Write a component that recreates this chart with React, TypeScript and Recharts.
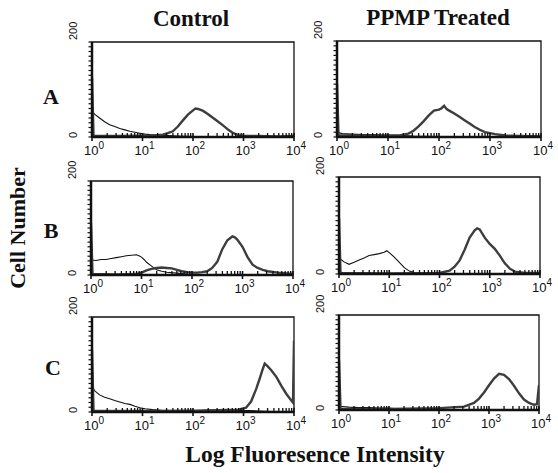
import React from 'react';
import { LineChart, Line, XAxis, YAxis, ReferenceArea } from 'recharts';

type Pt = [number, number]; // [log10 fluorescence, cell count]

// row A
const aControlIso: Pt[] = [
    [0, 55], [0.05, 48], [0.15, 40], [0.25, 32], [0.35, 26], [0.45, 22], [0.55, 18], [0.65, 15],
    [0.75, 12], [0.85, 10], [0.95, 8], [1.05, 6], [1.15, 5], [1.3, 4], [1.5, 3], [1.7, 2],
    [2.0, 1], [2.5, 1], [3.0, 1], [3.5, 1], [4.0, 1],
];
const aControlStain: Pt[] = [
    [0, 125], [0.03, 3], [0.5, 2], [1.0, 3], [1.2, 3], [1.4, 5], [1.5, 8], [1.6, 12], [1.7, 22],
    [1.8, 35], [1.9, 47], [2.0, 56], [2.05, 60], [2.1, 59], [2.2, 55], [2.3, 48], [2.4, 40],
    [2.5, 32], [2.6, 24], [2.7, 15], [2.8, 8], [2.9, 4], [3.0, 3], [3.3, 2], [3.7, 1], [4.0, 2],
];
const aPpmpIso: Pt[] = [
    [0, 10], [0.1, 7], [0.3, 6], [0.5, 5], [0.7, 5], [0.9, 4], [1.1, 4], [1.3, 3], [1.5, 2],
    [2.0, 1], [3.0, 1], [4.0, 1],
];
const aPpmpStain: Pt[] = [
    [0, 111], [0.03, 4], [0.3, 3], [0.6, 3], [0.9, 2], [1.2, 3], [1.4, 7], [1.5, 13], [1.6, 22],
    [1.7, 33], [1.8, 45], [1.9, 55], [2.0, 57], [2.05, 60], [2.1, 65], [2.15, 58], [2.2, 55],
    [2.3, 49], [2.4, 42], [2.5, 35], [2.6, 28], [2.7, 21], [2.8, 15], [2.9, 10], [3.0, 8],
    [3.1, 6], [3.3, 3], [3.6, 2], [4.0, 1],
];

// row B
const bControlIso: Pt[] = [
    [0, 32], [0.1, 31], [0.2, 33], [0.3, 33], [0.4, 35], [0.5, 37], [0.6, 39], [0.7, 41],
    [0.8, 42], [0.9, 43], [0.95, 41], [1.0, 38], [1.05, 33], [1.1, 27], [1.2, 19], [1.3, 11],
    [1.4, 8], [1.5, 6], [1.7, 4], [1.9, 2], [2.2, 1], [3.0, 1], [4.0, 1],
];
const bControlStain: Pt[] = [
    [0, 110], [0.03, 2], [0.5, 1], [0.9, 2], [1.0, 5], [1.1, 10], [1.2, 13], [1.3, 15], [1.4, 16],
    [1.5, 15], [1.6, 14], [1.7, 11], [1.8, 8], [1.9, 6], [2.0, 5], [2.1, 5], [2.2, 6], [2.3, 8],
    [2.4, 15], [2.5, 28], [2.6, 55], [2.7, 74], [2.8, 82], [2.85, 80], [2.9, 75], [3.0, 60],
    [3.1, 38], [3.2, 22], [3.3, 15], [3.4, 11], [3.5, 8], [3.7, 5], [4.0, 2],
];
const bPpmpIso: Pt[] = [
    [0, 33], [0.1, 25], [0.2, 20], [0.3, 24], [0.4, 29], [0.5, 33], [0.6, 38], [0.7, 40],
    [0.8, 42], [0.9, 45], [0.95, 48], [1.0, 44], [1.1, 35], [1.2, 24], [1.3, 13], [1.4, 6],
    [1.5, 3], [1.7, 1], [4.0, 1],
];
const bPpmpStain: Pt[] = [
    [0, 115], [0.03, 2], [1.0, 1], [2.0, 2], [2.2, 7], [2.3, 15], [2.4, 28], [2.5, 50], [2.6, 75],
    [2.7, 90], [2.75, 94], [2.8, 92], [2.9, 75], [3.0, 62], [3.1, 52], [3.2, 38], [3.3, 22],
    [3.4, 11], [3.5, 5], [3.7, 2], [4.0, 2],
];

// row C
const cControlIso: Pt[] = [
    [0, 56], [0.05, 45], [0.15, 36], [0.25, 31], [0.35, 28], [0.45, 24], [0.55, 21], [0.65, 18],
    [0.75, 16], [0.85, 12], [0.95, 9], [1.05, 7], [1.2, 5], [1.4, 3], [1.7, 2], [2.0, 2],
    [2.3, 4], [2.6, 3], [2.9, 3], [3.1, 3], [3.3, 2], [3.6, 1], [4.0, 1],
];
const cControlStain: Pt[] = [
    [0, 130], [0.03, 2], [0.5, 2], [1.0, 2], [2.0, 3], [2.5, 4], [2.9, 5], [3.05, 9], [3.15, 22],
    [3.25, 48], [3.32, 70], [3.38, 90], [3.42, 102], [3.48, 96], [3.55, 88], [3.65, 74],
    [3.75, 55], [3.85, 38], [3.92, 28], [3.98, 20], [4.0, 150],
];
const cPpmpIso: Pt[] = [
    [0, 8], [0.2, 6], [0.4, 5], [0.6, 5], [0.8, 4], [1.0, 4], [1.2, 2], [1.5, 1], [4.0, 1],
];
const cPpmpStain: Pt[] = [
    [0, 105], [0.03, 3], [1.0, 2], [2.0, 4], [2.5, 7], [2.7, 15], [2.8, 24], [2.9, 37], [3.0, 52],
    [3.1, 66], [3.2, 76], [3.3, 74], [3.4, 65], [3.5, 51], [3.6, 35], [3.7, 22], [3.8, 15],
    [3.9, 11], [3.96, 12], [4.0, 53],
];

const DECADES = [0, 1, 2, 3, 4];
const MINOR = [0.301, 0.477, 0.602, 0.699, 0.778, 0.845, 0.903, 0.954];
const X_TICKS = DECADES.flatMap(d => (d < 4 ? [d, ...MINOR.map(m => d + m)] : [d]));
const Y_TICKS = Array.from({ length: 21 }, (_, i) => i * 10);

const INK = '#111';
const SANS = '"Liberation Sans", Arial, sans-serif';
const SERIF = '"Liberation Serif", "Times New Roman", serif';
const PAD_TOP = 25;

const toRows = (pts: Pt[]) => pts.map(([x, y]) => ({ x, y }));

const XTick = (props: any) => {
    const { x, y, payload } = props;
    const v = payload.value as number;
    const major = Math.abs(v - Math.round(v)) < 1e-6;
    if (!major) {
        return <line x1={x} x2={x} y1={y} y2={y - 4} stroke={INK} strokeWidth={1.3} />;
    }
    return (
        <g>
            <line x1={x} x2={x} y1={y - 4} y2={y + 4} stroke={INK} strokeWidth={1.6} />
            <text x={x + 2} y={y + 18} textAnchor="middle" fontFamily={SANS} fontSize={13} fill={INK}>
                10<tspan dy={-6} fontSize={10}>{Math.round(v)}</tspan>
            </text>
        </g>
    );
};

const YTick = (props: any) => {
    const { x, y, payload } = props;
    const v = payload.value as number;
    return (
        <g>
            <line x1={x} x2={x - 3.5} y1={y} y2={y} stroke={INK} strokeWidth={1.2} />
            {v === 200 && (
                <text x={x - 15} y={y - 2} transform={`rotate(-90 ${x - 15} ${y - 2})`}
                    textAnchor="start" fontFamily={SANS} fontSize={11} fill={INK}>200</text>
            )}
            {v === 0 && (
                <text x={x - 15} y={y - 2} transform={`rotate(-90 ${x - 15} ${y - 2})`}
                    textAnchor="middle" fontFamily={SANS} fontSize={11} fill={INK}>0</text>
            )}
        </g>
    );
};

interface PanelProps {
    left: number;
    top: number;
    w: number;
    h: number;
    iso: Pt[];
    stain: Pt[];
}

const Panel: React.FC<PanelProps> = ({ left, top, w, h, iso, stain }) => (
    <div style={{ position: 'absolute', left: left - 30, top: top - PAD_TOP }}>
        <LineChart width={w + 45} height={h + PAD_TOP + 30} margin={{ top: PAD_TOP, right: 15, left: 0, bottom: 0 }}>
            <XAxis dataKey="x" type="number" domain={[0, 4]} ticks={X_TICKS} interval={0}
                tick={<XTick />} tickLine={false} tickSize={0} tickMargin={0} height={30}
                axisLine={{ stroke: INK, strokeWidth: 2.5 }} allowDataOverflow />
            <YAxis type="number" domain={[0, 200]} ticks={Y_TICKS} interval={0}
                tick={<YTick />} tickLine={false} tickSize={0} tickMargin={0} width={30}
                axisLine={{ stroke: INK, strokeWidth: 2.5 }} allowDataOverflow />
            <ReferenceArea x1={0} x2={4} y1={0} y2={200} fill="none" stroke={INK} strokeWidth={1.3} />
            <Line data={toRows(iso)} dataKey="y" type="linear" stroke={INK} strokeWidth={1.1}
                dot={false} isAnimationActive={false} />
            <Line data={toRows(stain)} dataKey="y" type="linear" stroke="#3d3d3d" strokeWidth={2.4}
                dot={false} isAnimationActive={false} />
        </LineChart>
    </div>
);

export default function App() {
    return (
        <div style={{ position: 'absolute', left: 0, top: 0, width: 558, height: 473, background: '#fff' }}>
            <Panel left={92} top={42} w={202} h={95} iso={aControlIso} stain={aControlStain} />
            <Panel left={337} top={41} w={204} h={96} iso={aPpmpIso} stain={aPpmpStain} />
            <Panel left={91} top={181} w={202} h={94} iso={bControlIso} stain={bControlStain} />
            <Panel left={339} top={177} w={201} h={97} iso={bPpmpIso} stain={bPpmpStain} />
            <Panel left={92} top={317} w={202} h={95} iso={cControlIso} stain={cControlStain} />
            <Panel left={339} top={315} w={200} h={95} iso={cPpmpIso} stain={cPpmpStain} />
            <svg width={558} height={473} style={{ position: 'absolute', left: 0, top: 0, pointerEvents: 'none' }}>
                <g fontFamily={SERIF} fontWeight="bold" fill={INK} fontSize={23}>
                    <text x={191} y={26} textAnchor="middle">Control</text>
                    <text x={438} y={25} textAnchor="middle">PPMP Treated</text>
                    <text x={51} y={104} textAnchor="middle" fontSize={22}>A</text>
                    <text x={51} y={238} textAnchor="middle" fontSize={22}>B</text>
                    <text x={53} y={375} textAnchor="middle" fontSize={22}>C</text>
                    <text x={25} y={228} textAnchor="middle" transform="rotate(-90 25 228)" fontSize={22}>Cell Number</text>
                    <text x={315} y={462} textAnchor="middle" fontSize={23.5}>Log Fluoresence Intensity</text>
                </g>
            </svg>
        </div>
    );
}
